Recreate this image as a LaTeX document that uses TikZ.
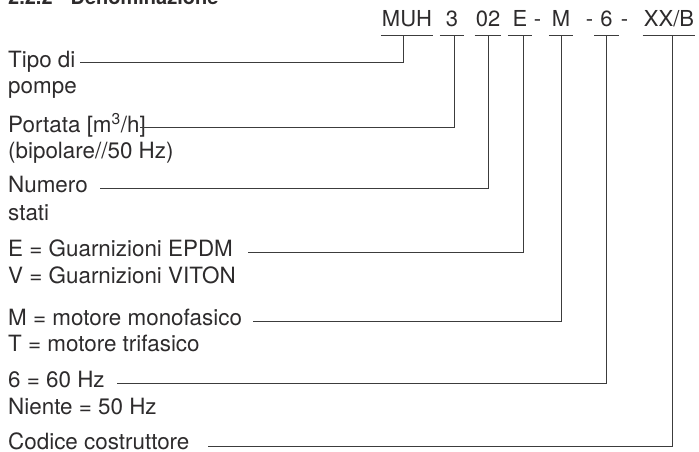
\documentclass[tikz,border=0pt]{standalone}
\usepackage{fontspec}
\setmainfont{TeX Gyre Heros}
\usepackage{tikz}
\definecolor{denomtext}{RGB}{45,43,44}
\definecolor{denomline}{RGB}{60,60,60}

\begin{document}
\begin{tikzpicture}[x=1pt,y=-1pt,
  lbl/.style={anchor=base west,inner sep=0pt,text=denomtext,font=\fontsize{22.4}{26}\selectfont},
  code/.style={anchor=base,inner xsep=1pt,inner ysep=0pt,text depth=8pt,minimum width=24pt,text=denomtext,font=\fontsize{22}{26}\selectfont},
  conn/.style={denomline,line width=0.8pt}]
\useasboundingbox(0,0)rectangle(699,452);
\node[anchor=base west,inner sep=0pt,text=denomtext,font=\bfseries\fontsize{20}{24}\selectfont](head)at(8,4.5){2.2.2\hspace{0.9em}Denominazione};
% sigla
\node[code](muh)at(407,27){MUH};\node[code](n3)at(452,27){3};\node[code](n02)at(488,27){02};\node[code](e)at(520,27){E};
\node[code,minimum width=0pt](d1)at(537.5,27){-};\node[code](m)at(561,27){M};\node[code,minimum width=0pt](d2)at(589.5,27){-};
\node[code](n6)at(606.5,27){6};\node[code,minimum width=0pt](d3)at(624.5,27){-};\node[code](xxb)at(669,27){XX/B};
\foreach \c in {muh,n3,n02,e,m,n6,xxb}{\draw[conn](\c.south west)--(\c.south east);}
% voci
\node[lbl](tipo)at(8,67){Tipo di};\node[lbl](tipob)at(8,93){pompe};
\node[lbl](port)at(8,132){Portata [m\textsuperscript{3}/h]};\node[lbl](portb)at(8,158){(bipolare//50 Hz)};
\node[lbl](num)at(8,192.5){Numero};\node[lbl](numb)at(8,220){stati};
\node[lbl](guar)at(8,256.5){E = Guarnizioni EPDM};\node[lbl](guarb)at(8,283.5){V = Guarnizioni VITON};
\node[lbl](mot)at(8,325){M = motore monofasico};\node[lbl](motb)at(8,351){T = motore trifasico};
\node[lbl](freq)at(8,387.5){6 = 60 Hz};\node[lbl](freqb)at(8,414){Niente = 50 Hz};
\node[lbl](cod)at(8,449){Codice costruttore};
% linee
\coordinate(sT)at(80,62.5);\coordinate(sP)at(140,127.5);\coordinate(sN)at(100,188);\coordinate(sE)at(248,252);
\coordinate(sM)at(253,321);\coordinate(sF)at(117,383);\coordinate(sC)at(208,446);
\draw[conn](sT)-|([xshift=-4pt]muh.south);\draw[conn](sP)-|([xshift=2pt]n3.south);\draw[conn](sN)-|(n02.south);
\draw[conn](sE)-|([xshift=3pt]e.south);\draw[conn](sM)-|(m.south);\draw[conn](sF)-|(n6.south);\draw[conn](sC)-|([xshift=3pt]xxb.south);
\end{tikzpicture}
\end{document}
